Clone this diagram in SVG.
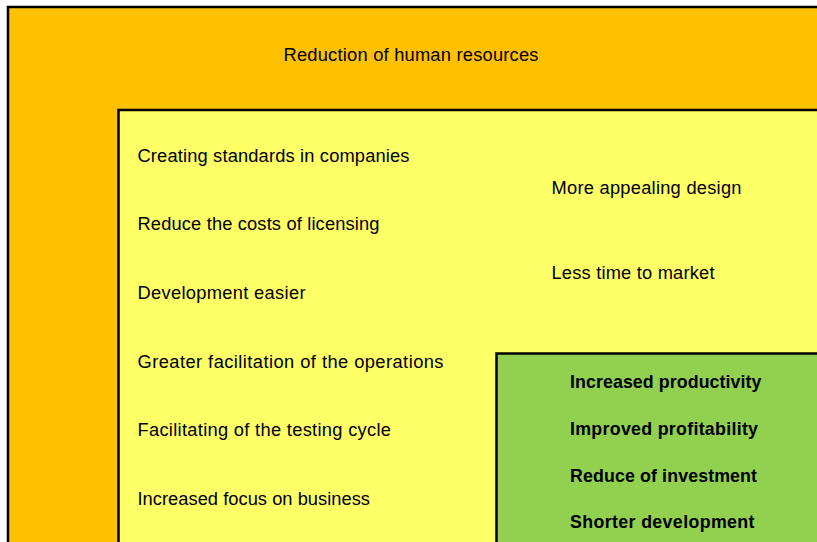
<svg xmlns="http://www.w3.org/2000/svg" width="817" height="542" viewBox="0 0 817 542">
<style>
.box{stroke:#000;stroke-width:2.5}
.t{font-family:"Liberation Sans",Arial,sans-serif;font-size:18.3px;fill:#000}
.b{font-weight:bold;font-size:17.8px}
</style>
<rect width="817" height="542" fill="#fff"/>
<g id="outer">
<rect class="box" x="8" y="7" width="830" height="560" fill="#FFC000"/>
<text class="t" x="283.5" y="61" textLength="255">Reduction of human resources</text>
</g>
<g id="middle">
<rect class="box" x="118.5" y="110" width="720" height="460" fill="#FFFF66"/>
<text class="t" x="137.5" y="161.5" textLength="272">Creating standards in companies</text>
<text class="t" x="137.5" y="230" textLength="242">Reduce the costs of licensing</text>
<text class="t" x="137.5" y="298.5" textLength="168">Development easier</text>
<text class="t" x="137.5" y="367.5" textLength="306">Greater facilitation of the operations</text>
<text class="t" x="137.5" y="436" textLength="253.5">Facilitating of the testing cycle</text>
<text class="t" x="137.5" y="505" textLength="232.5">Increased focus on business</text>
<text class="t" x="551.5" y="193.5" textLength="190">More appealing design</text>
<text class="t" x="551.5" y="279" textLength="163">Less time to market</text>
</g>
<g id="inner">
<rect class="box" x="496.5" y="353.5" width="340" height="210" fill="#92D050"/>
<text class="t b" x="570" y="387.5" textLength="191.5">Increased productivity</text>
<text class="t b" x="570" y="434.5" textLength="188">Improved profitability</text>
<text class="t b" x="570" y="481.5" textLength="187">Reduce of investment</text>
<text class="t b" x="570" y="527.5" textLength="184.5">Shorter development</text>
</g>
<g id="connectors"/>
</svg>
